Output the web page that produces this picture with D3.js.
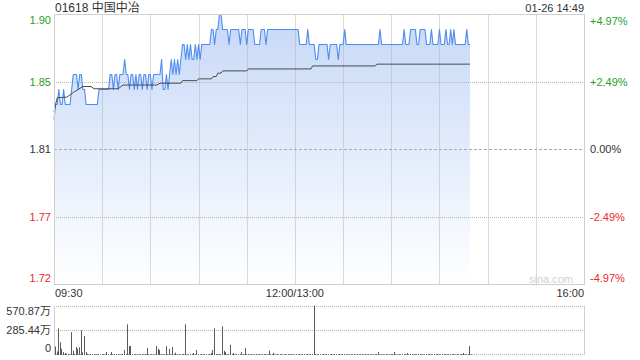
<!DOCTYPE html>
<html>
<head>
<meta charset="utf-8">
<script src="https://cdn.jsdelivr.net/npm/d3@7"></script>
<style>
  html, body { margin: 0; padding: 0; background: #fff; }
  svg { display: block; font-family: Arial, "Liberation Sans", "Noto Sans CJK SC", sans-serif; }
</style>
</head>
<body>
<div id="chart"></div>
<script>
const title = '01618 中国中冶';
const stamp = '01-26 14:49';
const prevClose = 1.81;

const priceTicks = [1.90, 1.855, 1.81, 1.765, 1.72];
const priceLabels = ['1.90', '1.85', '1.81', '1.77', '1.72'];
const pctLabels = ['+4.97%', '+2.49%', '0.00%', '-2.49%', '-4.97%'];

// minutes after 09:30, lunch break removed (150 = 12:00/13:00, 330 = 16:00)
const timeTicks = [0, 150, 330];
const timeLabels = ['09:30', '12:00/13:00', '16:00'];

const volTicks = [570.87, 285.44, 0];
const volLabels = ['570.87万', '285.44万', '0'];

// last price, one per minute from 09:30 to 14:49
const prices = [
  1.83, 1.84, 1.84, 1.85, 1.84, 1.84, 1.85, 1.84, 1.84, 1.84, 1.84, 1.85, 1.86, 1.86, 1.86, 1.85, 1.86, 1.86, 1.85, 1.85,
  1.84, 1.84, 1.84, 1.84, 1.84, 1.84, 1.84, 1.84, 1.85, 1.85, 1.85, 1.85, 1.85, 1.85, 1.85, 1.86, 1.86, 1.85, 1.86, 1.86,
  1.85, 1.86, 1.86, 1.86, 1.87, 1.86, 1.86, 1.85, 1.86, 1.86, 1.85, 1.86, 1.85, 1.86, 1.86, 1.85, 1.86, 1.86, 1.85, 1.86,
  1.86, 1.85, 1.86, 1.86, 1.86, 1.86, 1.86, 1.87, 1.85, 1.85, 1.86, 1.85, 1.86, 1.87, 1.86, 1.87, 1.86, 1.87, 1.86, 1.87,
  1.88, 1.88, 1.87, 1.88, 1.87, 1.88, 1.87, 1.87, 1.88, 1.87, 1.88, 1.87, 1.88, 1.88, 1.88, 1.88, 1.88, 1.88, 1.89, 1.89,
  1.88, 1.89, 1.89, 1.90, 1.90, 1.89, 1.89, 1.89, 1.89, 1.88, 1.89, 1.89, 1.89, 1.89, 1.89, 1.89, 1.88, 1.89, 1.89, 1.89,
  1.88, 1.89, 1.89, 1.89, 1.89, 1.88, 1.88, 1.88, 1.88, 1.89, 1.89, 1.89, 1.88, 1.89, 1.89, 1.89, 1.89, 1.89, 1.89, 1.89,
  1.89, 1.89, 1.89, 1.89, 1.89, 1.89, 1.89, 1.89, 1.89, 1.89, 1.89, 1.89, 1.89, 1.88, 1.88, 1.88, 1.88, 1.88, 1.89, 1.88,
  1.88, 1.88, 1.88, 1.87, 1.87, 1.88, 1.88, 1.88, 1.88, 1.88, 1.88, 1.87, 1.88, 1.88, 1.88, 1.88, 1.88, 1.87, 1.88, 1.88,
  1.88, 1.89, 1.88, 1.88, 1.88, 1.88, 1.88, 1.88, 1.88, 1.88, 1.88, 1.88, 1.88, 1.88, 1.88, 1.88, 1.88, 1.88, 1.88, 1.88,
  1.88, 1.88, 1.88, 1.89, 1.88, 1.88, 1.88, 1.88, 1.88, 1.88, 1.88, 1.88, 1.88, 1.88, 1.88, 1.88, 1.88, 1.88, 1.89, 1.88,
  1.88, 1.88, 1.89, 1.89, 1.89, 1.89, 1.88, 1.88, 1.89, 1.89, 1.89, 1.89, 1.88, 1.88, 1.88, 1.89, 1.88, 1.88, 1.88, 1.88,
  1.89, 1.88, 1.88, 1.88, 1.89, 1.88, 1.88, 1.89, 1.88, 1.89, 1.88, 1.88, 1.88, 1.88, 1.88, 1.88, 1.88, 1.89, 1.88, 1.88,
];

// average price line, read at the points where it changes
const avgMinutes = [0, 1, 2, 8, 12, 15, 18, 23, 25, 40, 43, 64, 66, 79, 80, 89, 90, 98, 99, 101, 102, 104, 105, 120, 121, 160, 161, 200, 201, 259];
const avgPrices = [1.835, 1.840, 1.8445, 1.8449, 1.848, 1.850, 1.852, 1.852, 1.8505, 1.8505, 1.853, 1.853, 1.8542, 1.8542, 1.8559,
  1.8559, 1.8571, 1.8571, 1.8586, 1.8586, 1.8609, 1.8609, 1.8624, 1.8624, 1.8637, 1.8637, 1.8657, 1.8657, 1.8669, 1.8669];

// volume per minute, in 万 shares
const volumes = [
  99, 40, 308, 148, 72, 34, 23, 15, 11, 9, 263, 49, 12, 91, 72, 88, 285, 30, 217, 34,
  12, 8, 10, 6, 9, 7, 11, 8, 6, 9, 10, 7, 34, 8, 6, 34, 9, 7, 10, 8,
  6, 9, 12, 57, 8, 354, 103, 103, 10, 7, 9, 8, 6, 10, 7, 9, 12, 80, 8, 7,
  9, 6, 8, 103, 72, 57, 10, 8, 7, 103, 9, 72, 8, 91, 10, 27, 8, 6, 9, 7,
  12, 354, 8, 6, 9, 10, 23, 7, 57, 8, 6, 9, 7, 10, 8, 6, 9, 23, 57, 308,
  10, 8, 12, 7, 331, 49, 34, 9, 8, 118, 10, 23, 7, 9, 8, 6, 34, 10, 80, 9,
  8, 7, 10, 6, 9, 8, 7, 11, 6, 9, 8, 10, 7, 49, 9, 8, 23, 7, 10, 6,
  9, 8, 7, 10, 6, 9, 8, 11, 7, 6, 10, 8, 9, 7, 6, 10, 8, 9, 7, 8,
  10, 571, 9, 7, 8, 6, 10, 8, 7, 9, 6, 8, 10, 7, 9, 8, 6, 10, 7, 9,
  8, 6, 10, 7, 9, 8, 11, 6, 9, 7, 10, 8, 6, 9, 7, 10, 8, 9, 6, 8,
  10, 34, 7, 9, 8, 6, 10, 8, 7, 9, 12, 34, 8, 6, 9, 7, 10, 8, 9, 23,
  7, 10, 8, 6, 9, 7, 10, 8, 9, 6, 8, 10, 7, 9, 8, 6, 10, 7, 9, 8,
  6, 9, 8, 10, 7, 9, 6, 8, 10, 7, 9, 8, 6, 10, 23, 8, 7, 9, 103, 8,
];

const width = 640;
const height = 360;
const plot = { left: 54, right: 584, top: 14.5, bottom: 284.5 };
const vol = { top: 305.5, bottom: 355 };
const green = '#1fa31f';
const red = '#f02828';
const dark = '#333';
const grid = '#b4b4b4';

const labelColor = (i) => (i < 2 ? green : i === 2 ? dark : red);
const crisp = v => Math.round(v) + 0.5;

const svg = d3.select('#chart').append('svg')
  .attr('width', width)
  .attr('height', height);

const x = d3.scaleLinear().domain([0, 330]).range([plot.left, plot.right]);
const y = d3.scaleLinear().domain([1.72, 1.90]).range([plot.bottom, plot.top]);
const vy = d3.scaleLinear().domain([0, 570.87]).range([vol.bottom, vol.top]);

// gradient under the price line
const grad = svg.append('defs').append('linearGradient')
  .attr('id', 'fade')
  .attr('gradientUnits', 'userSpaceOnUse')
  .attr('x1', 0).attr('x2', 0)
  .attr('y1', plot.top).attr('y2', plot.bottom);
grad.append('stop').attr('offset', 0).attr('stop-color', '#c6d8f7');
grad.append('stop').attr('offset', 1).attr('stop-color', '#ffffff');

const area = d3.area()
  .x((d, i) => x(i))
  .y0(plot.bottom)
  .y1(d => y(d));

svg.append('path')
  .datum(prices)
  .attr('fill', 'url(#fade)')
  .attr('d', area);

// vertical grid every 30 minutes
svg.append('g')
  .selectAll('line')
  .data(d3.range(30, 330, 30))
  .enter()
  .append('line')
  .attr('x1', d => crisp(x(d)))
  .attr('x2', d => crisp(x(d)))
  .attr('y1', plot.top)
  .attr('y2', plot.bottom)
  .attr('stroke', grid)
  .attr('stroke-dasharray', '1,1');

// horizontal grid, the previous close line dashed
svg.append('g')
  .selectAll('line')
  .data(priceTicks.slice(1, -1))
  .enter()
  .append('line')
  .attr('x1', plot.left)
  .attr('x2', plot.right)
  .attr('y1', d => crisp(y(d)))
  .attr('y2', d => crisp(y(d)))
  .attr('stroke', d => (d === prevClose ? '#aaa' : grid))
  .attr('stroke-dasharray', d => (d === prevClose ? '3,2' : '1,1'));

// price and average lines
svg.append('path')
  .datum(prices)
  .attr('fill', 'none')
  .attr('stroke', '#4f8cf2')
  .attr('stroke-width', 1.1)
  .attr('stroke-linejoin', 'round')
  .attr('d', d3.line().x((d, i) => x(i)).y(d => y(d)));

svg.append('path')
  .datum(avgMinutes)
  .attr('fill', 'none')
  .attr('stroke', '#4a4a4a')
  .attr('stroke-width', 1)
  .attr('d', d3.line().x(d => x(d)).y((d, i) => y(avgPrices[i])));

// plot frame
svg.append('rect')
  .attr('x', plot.left + 0.5)
  .attr('y', plot.top)
  .attr('width', plot.right - plot.left)
  .attr('height', plot.bottom - plot.top)
  .attr('fill', 'none')
  .attr('stroke', '#cfcfcf');

svg.append('text')
  .attr('x', 573)
  .attr('y', 283)
  .attr('text-anchor', 'end')
  .attr('font-size', 11)
  .attr('fill', '#d0d0d0')
  .text('sina.com');

// price and percent labels
svg.append('g')
  .selectAll('text')
  .data(priceTicks)
  .enter()
  .append('text')
  .attr('x', 51)
  .attr('y', (d, i) => y(d) + (i === 0 ? 9.5 : i === priceTicks.length - 1 ? -2.5 : 3.5))
  .attr('text-anchor', 'end')
  .attr('font-size', 11)
  .attr('fill', (d, i) => labelColor(i))
  .text((d, i) => priceLabels[i]);

svg.append('g')
  .selectAll('text')
  .data(priceTicks)
  .enter()
  .append('text')
  .attr('x', 590)
  .attr('y', (d, i) => y(d) + (i === 0 ? 10 : i === priceTicks.length - 1 ? -2.5 : 3.5))
  .attr('font-size', 11)
  .attr('fill', (d, i) => labelColor(i))
  .text((d, i) => pctLabels[i]);

// time labels
svg.append('g')
  .selectAll('text')
  .data(timeTicks)
  .enter()
  .append('text')
  .attr('x', d => x(d) + (d === 0 ? 1 : 0))
  .attr('y', 297)
  .attr('text-anchor', (d, i) => ['start', 'middle', 'end'][i])
  .attr('font-size', 11)
  .attr('fill', dark)
  .text((d, i) => timeLabels[i]);

// title and timestamp
svg.append('text')
  .attr('x', 55)
  .attr('y', 12)
  .attr('font-size', 12)
  .attr('fill', dark)
  .text(title);

svg.append('text')
  .attr('x', 584)
  .attr('y', 12)
  .attr('text-anchor', 'end')
  .attr('font-size', 11)
  .attr('fill', dark)
  .text(stamp);

// volume panel
svg.append('g')
  .selectAll('line')
  .data(volTicks)
  .enter()
  .append('line')
  .attr('x1', plot.left)
  .attr('x2', plot.right)
  .attr('y1', d => crisp(vy(d)) - (d === 0 ? 1 : 0))
  .attr('y2', d => crisp(vy(d)) - (d === 0 ? 1 : 0))
  .attr('stroke', grid)
  .attr('stroke-dasharray', '1,1');

svg.append('g')
  .selectAll('line')
  .data([plot.left, plot.right])
  .enter()
  .append('line')
  .attr('x1', d => d + 0.5)
  .attr('x2', d => d + 0.5)
  .attr('y1', vol.top)
  .attr('y2', vol.bottom)
  .attr('stroke', '#cfcfcf');

svg.append('g')
  .selectAll('line')
  .data(volumes)
  .enter()
  .append('line')
  .attr('x1', (d, i) => crisp(x(i)) + 1)
  .attr('x2', (d, i) => crisp(x(i)) + 1)
  .attr('y1', vy(0))
  .attr('y2', d => vy(d))
  .attr('stroke', '#5a5a5a')
  .attr('stroke-width', 1);

svg.append('g')
  .selectAll('text')
  .data(volTicks)
  .enter()
  .append('text')
  .attr('x', 51)
  .attr('y', (d, i) => vy(d) + [9.5, 3.5, -3][i])
  .attr('text-anchor', 'end')
  .attr('font-size', 11)
  .attr('fill', dark)
  .text((d, i) => volLabels[i]);
</script>
</body>
</html>
